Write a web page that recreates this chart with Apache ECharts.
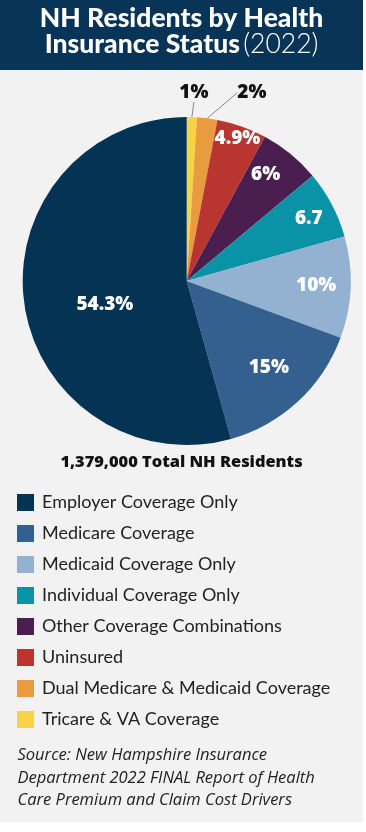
<!DOCTYPE html>
<html><head><meta charset="utf-8">
<script src="https://cdn.jsdelivr.net/npm/echarts@6/dist/echarts.min.js"></script>
<style>html,body{margin:0;padding:0;background:#fff}#c{width:366px;height:832px}</style>
</head><body><div id="c"></div>
<script>
// ---- data ----
const categories = ['Tricare & VA Coverage','Dual Medicare & Medicaid Coverage','Uninsured','Other Coverage Combinations','Individual Coverage Only','Medicaid Coverage Only','Medicare Coverage','Employer Coverage Only'];
const shares = [1, 2, 4.9, 6, 6.7, 10, 15, 54.3];
const sliceLabels = ['1%','2%','4.9%','6%','6.7','10%','15%','54.3%'];
const legendOrder = ['Employer Coverage Only','Medicare Coverage','Medicaid Coverage Only','Individual Coverage Only','Other Coverage Combinations','Uninsured','Dual Medicare & Medicaid Coverage','Tricare & VA Coverage'];
const titleLine1 = 'NH Residents by Health';
const titleLine2 = 'Insurance Status';
const titleYear = '(2022)';
const totalText = '1,379,000 Total NH Residents';
const sourceText = 'Source: New Hampshire Insurance\nDepartment 2022 FINAL Report of Health\nCare Premium and Claim Cost Drivers';

// ---- style ----
const sliceColors = ['#f8d348','#e89c3f','#b9352f','#4a1e4f','#0a93a6','#93b1d1','#33608f','#053354'];
const outsideIdx = [0, 1];
const labelRadius = [1.15, 1.215, 0.92, 0.81, 0.835, 0.79, 0.726, 0.52];
const labelAngleShift = [0.4, 11.9, 0, -2.8, 0.9, 0, -0.9, -8.5];
const FONT = 'Lato';
const WIDE = '"Open Sans"';

const chart = echarts.init(document.getElementById('c'), null, {renderer: 'canvas'});

const pieData = categories.map((name, i) => {
  const outside = outsideIdx.indexOf(i) >= 0;
  return {
    name, value: shares[i],
    itemStyle: {color: sliceColors[i]},
    label: outside ? {position: 'outside', color: '#111'} : {position: 'inside', color: '#fff'},
    labelLine: {show: outside}
  };
});

chart.setOption({
  backgroundColor: '#ffffff',
  animation: false,
  graphic: [
    {type: 'rect', shape: {x: 0, y: 0, width: 363, height: 822}, style: {fill: '#f2f2f2'}, z: -10},
    {type: 'rect', shape: {x: 0, y: 0, width: 363, height: 70}, style: {fill: '#073457'}, z: -9},
    {type: 'text', x: 181.5, y: 18, style: {text: titleLine1, align: 'center', verticalAlign: 'middle', fill: '#fff', font: '900 26.5px ' + FONT}},
    {type: 'text', x: 181.5, y: 44, style: {text: '{b|' + titleLine2 + '} {l|' + titleYear + '}', align: 'center', verticalAlign: 'middle',
      rich: {b: {fill: '#fff', font: '900 26.5px ' + FONT}, l: {fill: '#fff', font: '300 26.5px ' + FONT}}}},
    {type: 'text', x: 181.5, y: 462, style: {text: totalText, align: 'center', verticalAlign: 'middle', fill: '#111', font: '800 16.4px ' + WIDE}},
    {type: 'text', x: 17.5, y: 744, style: {text: sourceText, align: 'left', verticalAlign: 'top', fill: '#222', font: 'italic 16.5px ' + WIDE, lineHeight: 22.7}}
  ],
  legend: {
    orient: 'vertical', left: 17, top: 493.5, padding: 0, itemWidth: 17, itemHeight: 17, itemGap: 13, icon: 'rect',
    selectedMode: false, data: legendOrder,
    textStyle: {fontFamily: FONT, fontSize: 18, color: '#222', lineHeight: 17, padding: [0, 0, 0, 3]}
  },
  series: [{
    type: 'pie', center: [186.7, 281], radius: [0, 164], startAngle: 90, clockwise: true,
    avoidLabelOverlap: false, silent: true,
    label: {show: true, fontFamily: WIDE, fontWeight: 800, fontSize: 19,
      formatter: p => sliceLabels[p.dataIndex]},
    labelLine: {length: 8, length2: 0, lineStyle: {color: '#888', width: 1}},
    labelLayout: function (p) {
      const data = chart.getModel().getSeriesByIndex(0).getData();
      const lay = data.getItemLayout(p.dataIndex);
      const mid = (lay.startAngle + lay.endAngle) / 2 + labelAngleShift[p.dataIndex] * Math.PI / 180;
      const rr = lay.r * labelRadius[p.dataIndex];
      return {x: lay.cx + rr * Math.cos(mid), y: lay.cy + rr * Math.sin(mid), align: 'center', verticalAlign: 'middle'};
    },
    data: pieData
  }]
});
</script></body></html>
